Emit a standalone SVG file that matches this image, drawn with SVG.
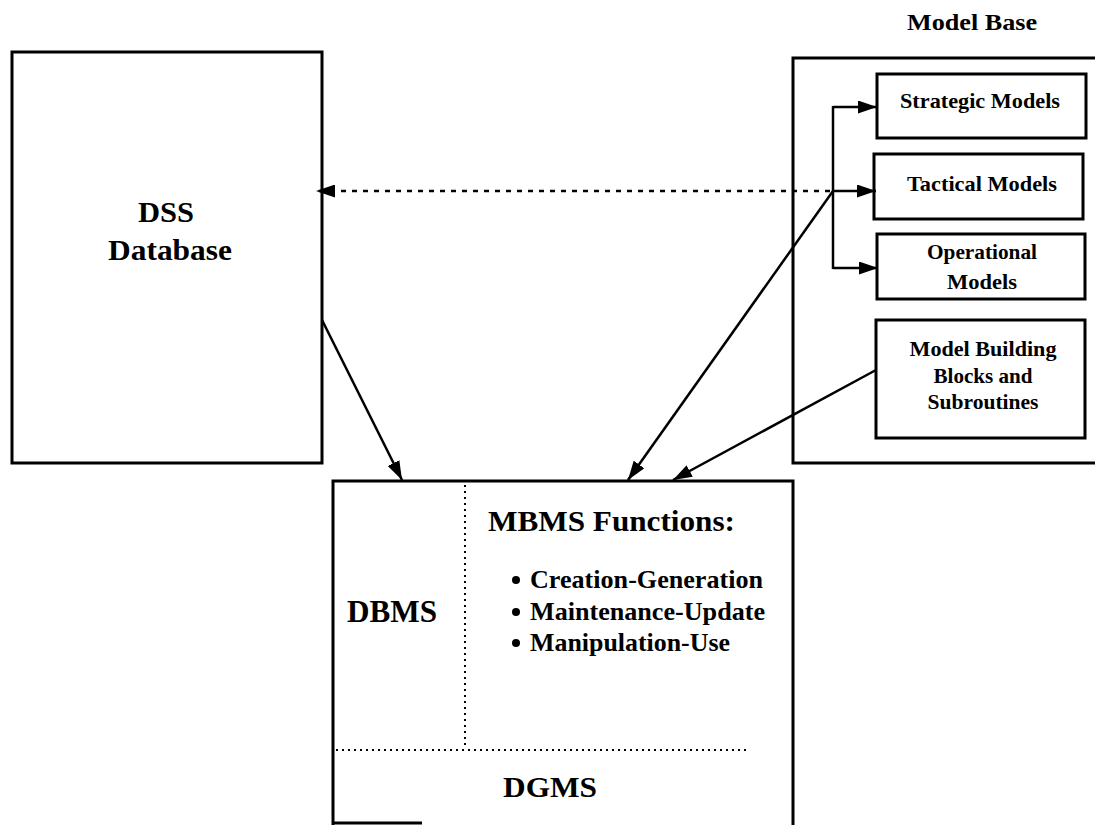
<svg xmlns="http://www.w3.org/2000/svg" width="1095" height="825" viewBox="0 0 1095 825">
<style>
.box{fill:none;stroke:#000;stroke-width:3}
.t{font-family:"Liberation Serif","Times New Roman",serif;font-weight:bold;fill:#000}
.c{fill:none;stroke:#000;stroke-width:2.5}
.dot{fill:none;stroke:#000;stroke-width:2;stroke-dasharray:2 4}
.dash{fill:none;stroke:#000;stroke-width:2.5;stroke-dasharray:5 6}
.bul{fill:#000}
</style>
<defs>
<marker id="ah" markerUnits="userSpaceOnUse" markerWidth="19" markerHeight="13" refX="19" refY="6.5" orient="auto">
<path d="M0,0 L19,6.5 L0,13 z" fill="#000"/>
</marker>
</defs>
<rect width="1095" height="825" fill="#fff"/>

<g id="dss-database">
<rect class="box" x="12" y="52" width="310" height="411"/>
<text class="t" x="166" y="222" font-size="29" text-anchor="middle" textLength="56" lengthAdjust="spacingAndGlyphs">DSS</text>
<text class="t" x="170" y="260" font-size="29" text-anchor="middle" textLength="124" lengthAdjust="spacingAndGlyphs">Database</text>
</g>

<g id="model-base">
<text class="t" x="972" y="30" font-size="24" text-anchor="middle" textLength="130" lengthAdjust="spacingAndGlyphs">Model Base</text>
<path class="box" d="M1098,58 L793,58 L793,463 L1098,463"/>
</g>

<g id="strategic-models">
<rect class="box" x="877" y="74" width="209" height="64"/>
<text class="t" x="980" y="108" font-size="22" text-anchor="middle" textLength="160" lengthAdjust="spacingAndGlyphs">Strategic Models</text>
</g>

<g id="tactical-models">
<rect class="box" x="874" y="154" width="209" height="65"/>
<text class="t" x="982" y="191" font-size="22" text-anchor="middle" textLength="150" lengthAdjust="spacingAndGlyphs">Tactical Models</text>
</g>

<g id="operational-models">
<rect class="box" x="877" y="234" width="208" height="65"/>
<text class="t" x="982" y="259" font-size="21" text-anchor="middle" textLength="110" lengthAdjust="spacingAndGlyphs">Operational</text>
<text class="t" x="982" y="289" font-size="21" text-anchor="middle" textLength="70" lengthAdjust="spacingAndGlyphs">Models</text>
</g>

<g id="model-building-blocks">
<rect class="box" x="876" y="320" width="209" height="118"/>
<text class="t" x="983" y="356" font-size="21" text-anchor="middle" textLength="147" lengthAdjust="spacingAndGlyphs">Model Building</text>
<text class="t" x="983" y="383" font-size="21" text-anchor="middle" textLength="99" lengthAdjust="spacingAndGlyphs">Blocks and</text>
<text class="t" x="983" y="409" font-size="21" text-anchor="middle" textLength="111" lengthAdjust="spacingAndGlyphs">Subroutines</text>
</g>

<g id="mbms">
<path class="box" d="M333,827 L333,481 L793,481 L793,827 M333,823 L422,823"/>
<line class="dot" x1="465" y1="485" x2="465" y2="746"/>
<line class="dot" x1="336" y1="750" x2="746" y2="750"/>
<text class="t" x="488" y="531" font-size="30" textLength="247" lengthAdjust="spacingAndGlyphs">MBMS Functions:</text>
<circle class="bul" cx="516" cy="580" r="4"/>
<text class="t" x="530" y="588" font-size="25" textLength="233" lengthAdjust="spacingAndGlyphs">Creation-Generation</text>
<circle class="bul" cx="516" cy="612" r="4"/>
<text class="t" x="530" y="620" font-size="25" textLength="235" lengthAdjust="spacingAndGlyphs">Maintenance-Update</text>
<circle class="bul" cx="516" cy="643" r="4"/>
<text class="t" x="530" y="651" font-size="25" textLength="200" lengthAdjust="spacingAndGlyphs">Manipulation-Use</text>
<text class="t" x="347" y="622" font-size="31" textLength="90" lengthAdjust="spacingAndGlyphs">DBMS</text>
<text class="t" x="503" y="797" font-size="29" textLength="94" lengthAdjust="spacingAndGlyphs">DGMS</text>
</g>

<g id="connectors">
<line class="c" x1="322" y1="320" x2="402" y2="480" marker-end="url(#ah)"/>
<line class="c" x1="833" y1="191" x2="628" y2="480" marker-end="url(#ah)"/>
<line class="c" x1="876" y1="370" x2="673" y2="480" marker-end="url(#ah)"/>
<line class="dash" x1="830" y1="191" x2="316" y2="191" marker-end="url(#ah)"/>
<line class="c" x1="833" y1="106" x2="833" y2="269" stroke-width="3"/>
<line class="c" x1="833" y1="107" x2="877" y2="107" marker-end="url(#ah)"/>
<line class="c" x1="833" y1="191" x2="876" y2="191" marker-end="url(#ah)"/>
<line class="c" x1="833" y1="268" x2="878" y2="268" marker-end="url(#ah)"/>
</g>
</svg>
